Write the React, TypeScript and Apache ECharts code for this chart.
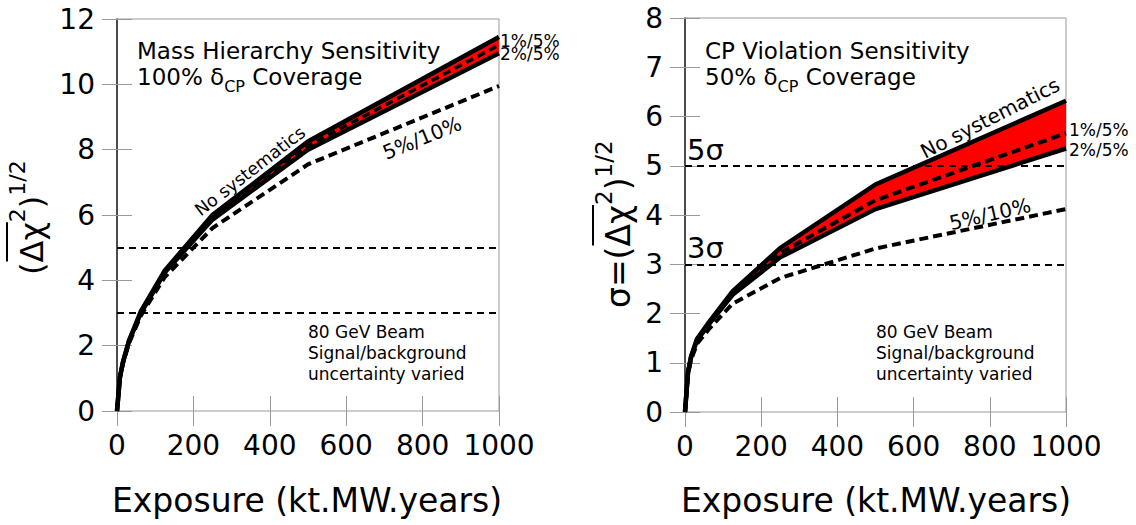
import React, { useEffect, useRef } from "react";
import * as echarts from "echarts";

// ---- data ----
const exposure = [0, 7.8, 15.6, 31.25, 62.5, 125, 250, 500, 1000];
// Mass hierarchy (left)
const mhNoSyst = [0, 1.05, 1.5, 2.15, 3.05, 4.3, 6.0, 8.25, 11.45];
const mh1of5 = [0, 1.05, 1.5, 2.14, 3.03, 4.27, 5.93, 8.12, 11.2];
const mh2of5 = [0, 1.04, 1.49, 2.13, 3.0, 4.24, 5.86, 8.0, 10.95];
const mh5of10 = [0, 1.02, 1.45, 2.07, 2.92, 4.1, 5.6, 7.55, 9.95];
// CP violation (right)
const cpNoSyst = [0, 0.8, 1.12, 1.48, 1.82, 2.45, 3.33, 4.62, 6.32];
const cp1of5 = [0, 0.8, 1.11, 1.46, 1.8, 2.42, 3.23, 4.3, 5.66];
const cp2of5 = [0, 0.79, 1.1, 1.45, 1.78, 2.38, 3.14, 4.12, 5.35];
const cp5of10 = [0, 0.76, 1.05, 1.38, 1.68, 2.2, 2.72, 3.32, 4.12];
// reference levels
const mhLevels = [5, 3];
const cpLevels = [5, 3];
const xMax = 1000;
const xStep = 200;
const mhMax = 12;
const mhStep = 2;
const cpMax = 8;
const cpStep = 1;

const FONT = '"DejaVu Sans", "Liberation Sans", sans-serif';

let measureCtx: CanvasRenderingContext2D | null = null;
function tw(t: string, s: number): number {
  if (!measureCtx) measureCtx = document.createElement("canvas").getContext("2d");
  measureCtx!.font = `${s}px "DejaVu Sans"`;
  return measureCtx!.measureText(t).width;
}

type Piece = { t: string; s: number; b?: number; over?: number };
function run(pieces: Piece[], x: number, y: number, rot = 0) {
  const children: any[] = [];
  let cx = 0;
  for (const p of pieces) {
    const w = tw(p.t, p.s);
    children.push({
      type: "text",
      x: cx,
      y: (p.b || 0) - 0.346 * p.s,
      style: { text: p.t, font: `${p.s}px ${FONT}`, fill: "#000", align: "left", verticalAlign: "middle" },
    });
    if (p.over != null) {
      children.push({
        type: "line",
        shape: { x1: cx + 1, y1: p.over, x2: cx + w, y2: p.over },
        style: { stroke: "#000", lineWidth: 2 },
      });
    }
    cx += w;
  }
  return { type: "group", x, y, rotation: rot, children };
}

function label(text: string, x: number, y: number, size: number, deg = 0, align = "center") {
  return {
    type: "text",
    x,
    y,
    rotation: (deg * Math.PI) / 180,
    style: { text, font: `${size}px ${FONT}`, fill: "#000", align, verticalAlign: "middle" },
    z: 50,
  };
}

function xAx(g: number, pos: string) {
  return {
    type: "value",
    gridIndex: g,
    position: pos,
    min: 0,
    max: xMax,
    interval: xStep,
    axisLine: { show: false },
    axisTick: { show: true, inside: true, length: 15, lineStyle: { color: "#999", width: 1 } },
    axisLabel: {
      show: pos === "bottom",
      margin: 20,
      fontSize: 28,
      color: "#000",
      fontFamily: FONT,
      formatter: (v: number) => String(v),
    },
    splitLine: { show: false },
  };
}
function yAx(g: number, pos: string, max: number, step: number) {
  return {
    type: "value",
    gridIndex: g,
    position: pos,
    min: 0,
    max,
    interval: step,
    axisLine: { show: pos === "left", lineStyle: { color: "#222", width: 1.5 } },
    axisTick: { show: true, inside: true, length: 15, lineStyle: { color: "#999", width: 1 } },
    axisLabel: {
      show: pos === "left",
      margin: 22,
      fontSize: 28,
      color: "#000",
      fontFamily: FONT,
      formatter: (v: number) => String(v),
    },
    splitLine: { show: false },
  };
}

function band(xi: number, yi: number, hi: number[], lo: number[]) {
  return {
    type: "custom",
    xAxisIndex: xi,
    yAxisIndex: yi,
    z: 1,
    silent: true,
    data: exposure.map((x, i) => [x, hi[i], lo[i]]),
    encode: { x: 0, y: [1, 2] },
    renderItem: (params: any, api: any) => {
      if (params.dataIndex !== 0) return null;
      const top = exposure.map((x, i) => api.coord([x, hi[i]]));
      const bot = exposure.map((x, i) => api.coord([x, lo[i]])).reverse();
      return { type: "polygon", shape: { points: top.concat(bot) }, style: { fill: "#ff0000" } };
    },
  };
}

function line(xi: number, yi: number, vals: number[], width: number, type: any, extra: any = {}) {
  return {
    type: "line",
    xAxisIndex: xi,
    yAxisIndex: yi,
    data: exposure.map((x, i) => [x, vals[i]]),
    showSymbol: false,
    symbol: "none",
    z: 3,
    lineStyle: { color: "#000", width, type, cap: "butt", join: "miter" },
    ...extra,
  };
}

function refLines(levels: number[]) {
  return {
    markLine: {
      silent: true,
      symbol: ["none", "none"],
      label: { show: false },
      lineStyle: { color: "#000", width: 1.8, type: [7, 5] },
      data: levels.map((v) => ({ yAxis: v })),
    },
  };
}

export default function App() {
  const ref = useRef<HTMLDivElement>(null);
  useEffect(() => {
    if (!ref.current) return;
    const chart = echarts.init(ref.current, null, { renderer: "svg" });
    const option: any = {
      animation: false,
      grid: [
        { left: 117, top: 19, width: 382, height: 392, show: true, borderColor: "#999", borderWidth: 1 },
        { left: 685, top: 18, width: 381, height: 394, show: true, borderColor: "#999", borderWidth: 1 },
      ],
      xAxis: [xAx(0, "bottom"), xAx(0, "top"), xAx(1, "bottom"), xAx(1, "top")],
      yAxis: [
        yAx(0, "left", mhMax, mhStep),
        yAx(0, "right", mhMax, mhStep),
        yAx(1, "left", cpMax, cpStep),
        yAx(1, "right", cpMax, cpStep),
      ],
      series: [
        band(0, 0, mhNoSyst, mh2of5),
        line(0, 0, mh5of10, 4, [9, 5], refLines(mhLevels)),
        line(0, 0, mhNoSyst, 4.5, "solid"),
        line(0, 0, mh2of5, 4.5, "solid"),
        line(0, 0, mh1of5, 3.5, [8, 5]),
        band(2, 2, cpNoSyst, cp2of5),
        line(2, 2, cp5of10, 4, [9, 5], refLines(cpLevels)),
        line(2, 2, cpNoSyst, 4.5, "solid"),
        line(2, 2, cp2of5, 4.5, "solid"),
        line(2, 2, cp1of5, 4, [9, 5]),
      ],
      graphic: [
        // titles
        run([{ t: "Mass Hierarchy Sensitivity", s: 23 }], 137, 59),
        run([{ t: "100% δ", s: 23 }, { t: "CP", s: 16, b: 7 }, { t: " Coverage", s: 23 }], 137, 85),
        run([{ t: "CP Violation Sensitivity", s: 23 }], 705, 59),
        run([{ t: "50% δ", s: 23 }, { t: "CP", s: 16, b: 7 }, { t: " Coverage", s: 23 }], 705, 85),
        // curve labels
        label("No systematics", 250, 171, 17.5, 37.7),
        label("5%/10%", 422, 138, 20, 22),
        label("1%/5%", 500, 41, 17, 0, "left"),
        label("2%/5%", 500, 54, 17, 0, "left"),
        label("No systematics", 990, 118, 20, 27),
        label("5%/10%", 990, 214, 20, 13),
        label("1%/5%", 1069, 130, 17, 0, "left"),
        label("2%/5%", 1069, 149.5, 17, 0, "left"),
        label("5σ", 687, 150, 29, 0, "left"),
        label("3σ", 687, 248, 29, 0, "left"),
        {
          type: "text",
          x: 308,
          y: 321.5,
          style: { text: "80 GeV Beam\nSignal/background\nuncertainty varied", font: `17px ${FONT}`, lineHeight: 21, fill: "#000", align: "left", verticalAlign: "top" },
        },
        {
          type: "text",
          x: 876,
          y: 321.5,
          style: { text: "80 GeV Beam\nSignal/background\nuncertainty varied", font: `17px ${FONT}`, lineHeight: 21, fill: "#000", align: "left", verticalAlign: "top" },
        },
        // axis names
        label("Exposure (kt.MW.years)", 307, 500, 33),
        label("Exposure (kt.MW.years)", 876, 500, 33),
        run(
          [
            { t: "(", s: 32 },
            { t: "Δχ", s: 32, over: -36 },
            { t: "2", s: 22, b: -18 },
            { t: ")", s: 32 },
            { t: "1/2", s: 22, b: -18 },
          ],
          43,
          275,
          Math.PI / 2
        ),
        run(
          [
            { t: "σ=(", s: 33 },
            { t: "Δχ", s: 33, over: -37 },
            { t: "2", s: 23, b: -18 },
            { t: ")", s: 33 },
            { t: "1/2", s: 23, b: -18 },
          ],
          630,
          308,
          Math.PI / 2
        ),
      ],
    };
    chart.setOption(option);
    return () => chart.dispose();
  }, []);
  return <div ref={ref} style={{ width: 1136, height: 525, position: "absolute", left: 0, top: 0 }} />;
}
